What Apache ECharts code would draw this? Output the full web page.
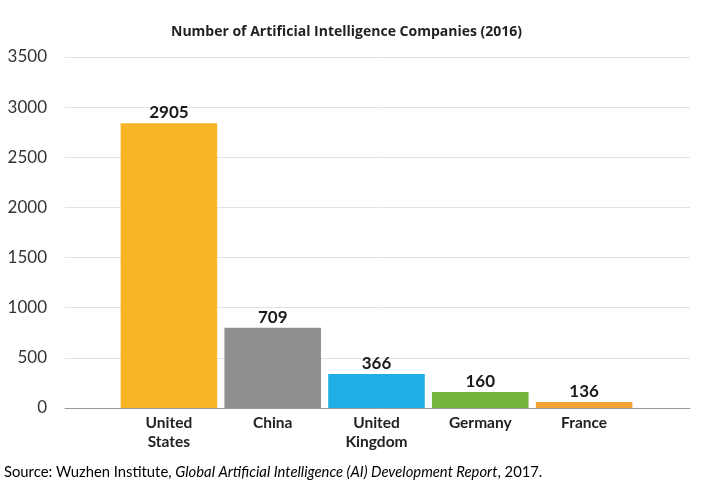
<!DOCTYPE html>
<html>
<head>
<meta charset="utf-8">
<script src="https://cdn.jsdelivr.net/npm/echarts@6/dist/echarts.min.js"></script>
<style>
html,body{margin:0;padding:0;background:#fff;}
#chart{width:704px;height:489px;}
</style>
</head>
<body>
<div id="chart"></div>
<script>
// Data
var categories = ['United\nStates', 'China', 'United\nKingdom', 'Germany', 'France'];
var barHeights = [2840, 800, 340, 160, 60];      // heights as drawn in the picture
var labelValues = [2905, 709, 366, 160, 136];    // numbers printed above bars
var barColors = ['#F9B428', '#8F8F8F', '#1EAFE4', '#76B53B', '#F2A332'];
var yTicks = [0, 500, 1000, 1500, 2000, 2500, 3000, 3500];
var titleText = 'Number of Artificial Intelligence Companies (2016)';
var sourcePlain = 'Source: Wuzhen Institute, ';
var sourceItalic = 'Global Artificial Intelligence (AI) Development Report';
var sourceEnd = ', 2017.';

var chart = echarts.init(document.getElementById('chart'));
var font = 'Lato, "Open Sans", sans-serif';

var option = {
  backgroundColor: '#fff',
  animation: false,
  title: {
    text: titleText,
    left: 166,
    top: 20,
    textStyle: {fontFamily: '"Open Sans", sans-serif', fontSize: 14, fontWeight: 'bold', color: '#222'}
  },
  grid: [
    {left: 65, right: 14, top: 57, bottom: 81},
    {left: 117, right: 68, top: 57, bottom: 81}
  ],
  xAxis: [
    {gridIndex: 0, type: 'value', min: 0, max: 1, show: true,
      axisLine: {show: true, onZero: false, lineStyle: {color: '#9a9a9a', width: 1}},
      axisTick: {show: false}, axisLabel: {show: false}, splitLine: {show: false}},
    {gridIndex: 1, type: 'category', data: categories,
      axisLine: {show: false}, axisTick: {show: false},
      axisLabel: {fontFamily: font, fontSize: 15.5, fontWeight: 'bold', color: '#222',
        margin: 5, lineHeight: 19, verticalAlign: 'top'}}
  ],
  yAxis: [
    {gridIndex: 0, type: 'value', min: yTicks[0], max: yTicks[yTicks.length - 1], interval: 500,
      axisLine: {show: false}, axisTick: {show: false},
      axisLabel: {fontFamily: font, fontSize: 17, color: '#333', margin: 18,
        formatter: function (v) { return String(v); }},
      splitLine: {show: true, lineStyle: {color: '#e2e2e2', width: 1}}},
    {gridIndex: 1, type: 'value', min: yTicks[0], max: yTicks[yTicks.length - 1], interval: 500,
      show: false, splitLine: {show: false}}
  ],
  series: [{
    type: 'bar',
    xAxisIndex: 1, yAxisIndex: 1,
    barCategoryGap: '7%',
    data: barHeights.map(function (v, i) {
      return {value: v, itemStyle: {color: barColors[i]}};
    }),
    label: {
      show: true, position: 'top', distance: 2,
      fontFamily: font, fontSize: 17, fontWeight: 'bold', color: '#1a1a1a',
      formatter: function (p) { return String(labelValues[p.dataIndex]); }
    }
  }],
  graphic: [{
    type: 'text', left: 4, top: 465,
    style: {
      text: '{a|' + sourcePlain + '}{b|' + sourceItalic + '}{a|' + sourceEnd + '}',
      rich: {
        a: {fontFamily: font, fontSize: 14.8, color: '#666'},
        b: {fontFamily: font, fontSize: 14.8, color: '#666', fontStyle: 'italic'}
      }
    }
  }]
};
chart.setOption(option);
</script>
</body>
</html>
